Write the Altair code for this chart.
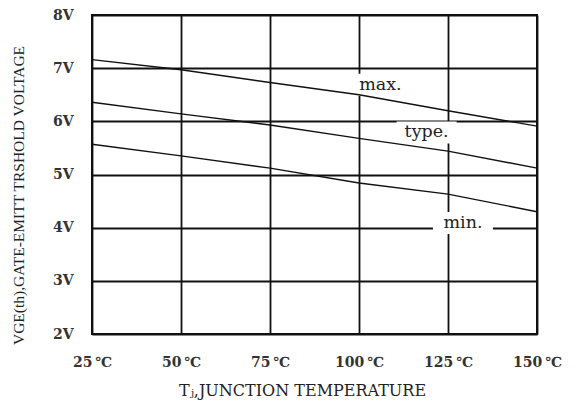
import altair as alt
import pandas as pd

temps = [25, 50, 75, 100, 125, 150]
v_max = [7.16, 6.97, 6.73, 6.50, 6.20, 5.91]
v_typ = [6.36, 6.14, 5.93, 5.68, 5.44, 5.12]
v_min = [5.57, 5.35, 5.12, 4.84, 4.63, 4.30]

label_text = ["max.", "type.", "min."]
label_x = [106, 119, 129.2]
label_y = [6.69, 5.79, 4.09]

rows = []
for name, vals in [("max", v_max), ("typ", v_typ), ("min", v_min)]:
    for t, v in zip(temps, vals):
        rows.append({"series": name, "T": t, "V": v})
df = pd.DataFrame(rows)
lab = pd.DataFrame({"text": label_text, "T": label_x, "V": label_y})

FONT = "Liberation Serif"
TFONT = "DejaVu Serif"

xscale = alt.Scale(domain=[25, 150], nice=False, zero=False)
yscale = alt.Scale(domain=[2, 8], nice=False, zero=False)

x_axis = alt.Axis(
    values=temps, labelExpr="datum.value + '\u2009℃'", title="Tⱼ,JUNCTION TEMPERATURE",
    grid=True, gridColor="#111", gridWidth=1.8, gridOpacity=1,
    ticks=False, domain=False, labelPadding=21, labelFlush=False,
    labelFont=TFONT, labelFontSize=14, labelFontWeight="bold", labelColor="#333",
    titleFont=TFONT, titleFontSize=16, titleFontWeight="normal", titleColor="#222",
    titleX=210, titleY=56, titleAlign="center", titleBaseline="middle",
)
y_axis = alt.Axis(
    values=[2, 3, 4, 5, 6, 7, 8], labelExpr="datum.value + 'V'",
    title="VGE(th),GATE-EMITT TRSHOLD VOLTAGE",
    grid=True, gridColor="#111", gridWidth=1.8, gridOpacity=1,
    ticks=False, domain=False, labelPadding=19, labelFlush=False,
    labelFont=TFONT, labelFontSize=14, labelFontWeight="bold", labelColor="#333",
    titleFont=FONT, titleFontSize=15.5, titleFontWeight="normal", titleColor="#222",
    titleX=-74, titleY=180, titleAlign="center", titleBaseline="middle", titleAngle=270,
)

lines = alt.Chart(df).mark_line(color="#111", strokeWidth=1.4).encode(
    x=alt.X("T:Q", scale=xscale, axis=x_axis),
    y=alt.Y("V:Q", scale=yscale, axis=y_axis),
    detail="series:N",
)

bg = alt.Chart(lab).mark_rect(color="white", width=60, height=22).encode(
    x=alt.X("T:Q", scale=xscale),
    y=alt.Y("V:Q", scale=yscale),
)

texts = alt.Chart(lab).mark_text(font=TFONT, fontSize=17.5, color="#222", baseline="middle").encode(
    x=alt.X("T:Q", scale=xscale),
    y=alt.Y("V:Q", scale=yscale),
    text="text:N",
)

chart = alt.layer(bg, lines, texts).properties(
    width=445, height=319, background="white",
    autosize=alt.AutoSizeParams(type="none"),
    padding={"left": 84, "top": 7, "right": 30, "bottom": 70},
).configure_view(stroke="#111", strokeWidth=2)

chart.save("out.html", embed_options={"renderer": "svg", "actions": False})
